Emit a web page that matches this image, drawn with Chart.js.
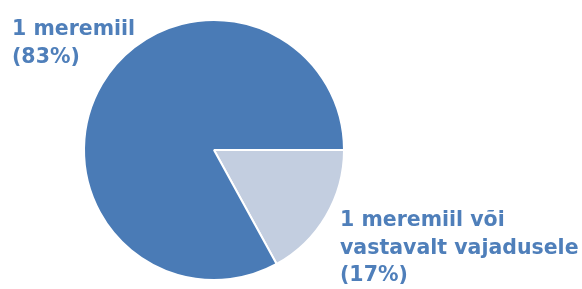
<!DOCTYPE html>
<html>
<head>
<meta charset="utf-8">
<script src="https://cdn.jsdelivr.net/npm/chart.js@4"></script>
<style>
  html, body { margin: 0; padding: 0; background: #fff; }
  #wrap { width: 582px; height: 289px; position: relative; }
</style>
</head>
<body>
<div id="wrap"><canvas id="pieChart"></canvas></div>
<script>
// andmed
const categories = ['1 meremiil või vastavalt vajadusele', '1 meremiil'];
const values = [17, 83];
const sliceColors = ['#c3cee0', '#4a7bb6'];

// sildid (read) iga lõigu kohta
const labelLines = [
    ['1 meremiil või', 'vastavalt vajadusele', '(17%)'],
    ['1 meremiil', '(83%)']
];
const labelPos = [
    { x: 340, y: 226 },
    { x: 12, y: 35 }
];

const labelPlugin = {
    id: 'sliceLabels',
    afterDraw(chart) {
        const c = chart.ctx;
        c.save();
        c.fillStyle = '#4f7fba';
        c.font = 'bold 20.5px "DejaVu Sans"';
        c.textBaseline = 'alphabetic';
        labelLines.forEach((lines, i) => {
            lines.forEach((t, j) => {
                c.fillText(t, labelPos[i].x, labelPos[i].y + j * 27.5);
            });
        });
        c.restore();
    }
};

new Chart(document.getElementById('pieChart'), {
    type: 'pie',
    data: {
        labels: categories,
        datasets: [{
            data: values,
            backgroundColor: sliceColors,
            borderColor: '#ffffff',
            borderWidth: 2
        }]
    },
    options: {
        responsive: true,
        maintainAspectRatio: false,
        animation: false,
        rotation: 90,
        layout: { padding: { left: 0, right: 154, top: 19, bottom: 8 } },
        plugins: {
            legend: { display: false },
            tooltip: { enabled: false }
        }
    },
    plugins: [labelPlugin]
});
</script>
</body>
</html>
